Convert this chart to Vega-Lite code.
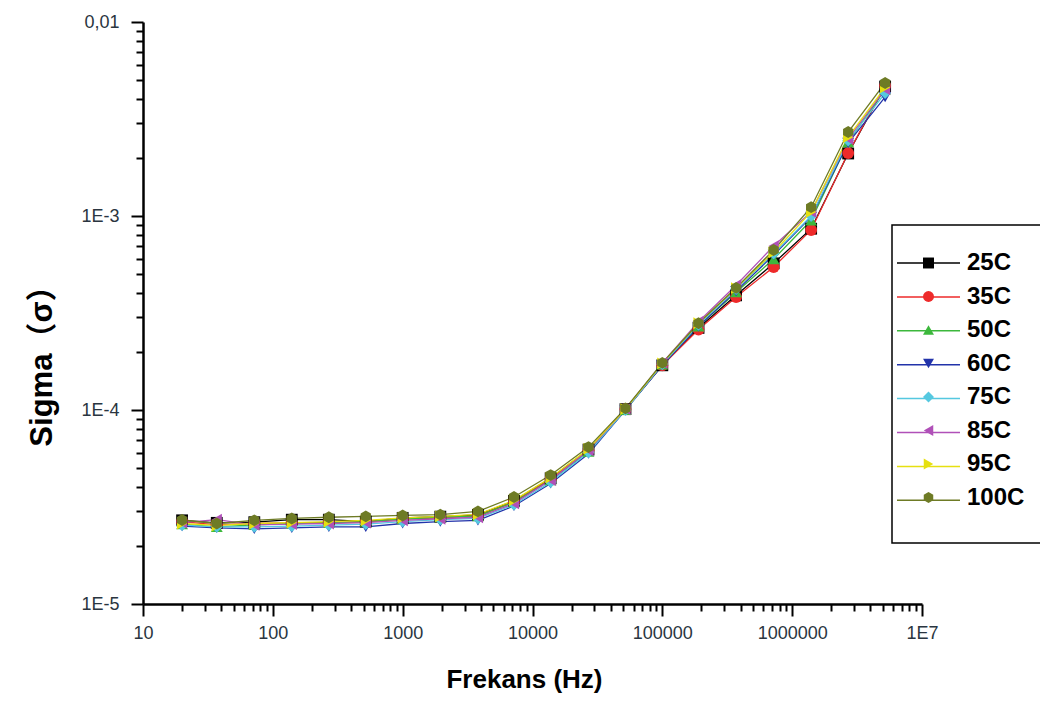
{
  "$schema": "https://vega.github.io/schema/vega-lite/v6.json",
  "width": 779,
  "height": 582,
  "autosize": "none",
  "padding": {"left": 143, "top": 22, "right": 118, "bottom": 98},
  "background": "white",
  "config": {"view": {"stroke": null}, "font": "Liberation Sans", "legend": {"strokeWidth": 1.5}},
  "data": {"values": [
    {"f":20,"s":2.70e-5,"T":"25C"},{"f":37,"s":2.62e-5,"T":"25C"},{"f":72,"s":2.64e-5,"T":"25C"},{"f":140,"s":2.72e-5,"T":"25C"},{"f":270,"s":2.72e-5,"T":"25C"},{"f":520,"s":2.66e-5,"T":"25C"},{"f":1000,"s":2.78e-5,"T":"25C"},{"f":1950,"s":2.82e-5,"T":"25C"},{"f":3800,"s":2.88e-5,"T":"25C"},{"f":7200,"s":3.40e-5,"T":"25C"},{"f":13800,"s":4.45e-5,"T":"25C"},{"f":27000,"s":6.25e-5,"T":"25C"},{"f":52000,"s":1.01e-4,"T":"25C"},{"f":100000,"s":1.70e-4,"T":"25C"},{"f":190000,"s":2.65e-4,"T":"25C"},{"f":370000,"s":3.90e-4,"T":"25C"},{"f":720000,"s":5.70e-4,"T":"25C"},{"f":1400000,"s":8.60e-4,"T":"25C"},{"f":2700000,"s":2.10e-3,"T":"25C"},{"f":5200000,"s":4.65e-3,"T":"25C"},
    {"f":20,"s":2.66e-5,"T":"35C"},{"f":37,"s":2.56e-5,"T":"35C"},{"f":72,"s":2.60e-5,"T":"35C"},{"f":140,"s":2.62e-5,"T":"35C"},{"f":270,"s":2.63e-5,"T":"35C"},{"f":520,"s":2.65e-5,"T":"35C"},{"f":1000,"s":2.74e-5,"T":"35C"},{"f":1950,"s":2.78e-5,"T":"35C"},{"f":3800,"s":2.84e-5,"T":"35C"},{"f":7200,"s":3.36e-5,"T":"35C"},{"f":13800,"s":4.40e-5,"T":"35C"},{"f":27000,"s":6.20e-5,"T":"35C"},{"f":52000,"s":1.01e-4,"T":"35C"},{"f":100000,"s":1.70e-4,"T":"35C"},{"f":190000,"s":2.60e-4,"T":"35C"},{"f":370000,"s":3.82e-4,"T":"35C"},{"f":720000,"s":5.46e-4,"T":"35C"},{"f":1400000,"s":8.47e-4,"T":"35C"},{"f":2700000,"s":2.11e-3,"T":"35C"},{"f":5200000,"s":4.70e-3,"T":"35C"},
    {"f":20,"s":2.58e-5,"T":"50C"},{"f":37,"s":2.50e-5,"T":"50C"},{"f":72,"s":2.56e-5,"T":"50C"},{"f":140,"s":2.60e-5,"T":"50C"},{"f":270,"s":2.62e-5,"T":"50C"},{"f":520,"s":2.66e-5,"T":"50C"},{"f":1000,"s":2.74e-5,"T":"50C"},{"f":1950,"s":2.80e-5,"T":"50C"},{"f":3800,"s":2.84e-5,"T":"50C"},{"f":7200,"s":3.35e-5,"T":"50C"},{"f":13800,"s":4.35e-5,"T":"50C"},{"f":27000,"s":6.10e-5,"T":"50C"},{"f":52000,"s":1.00e-4,"T":"50C"},{"f":100000,"s":1.72e-4,"T":"50C"},{"f":190000,"s":2.70e-4,"T":"50C"},{"f":370000,"s":4.05e-4,"T":"50C"},{"f":720000,"s":6.00e-4,"T":"50C"},{"f":1400000,"s":9.50e-4,"T":"50C"},{"f":2700000,"s":2.40e-3,"T":"50C"},{"f":5200000,"s":4.50e-3,"T":"50C"},
    {"f":20,"s":2.52e-5,"T":"60C"},{"f":37,"s":2.47e-5,"T":"60C"},{"f":72,"s":2.44e-5,"T":"60C"},{"f":140,"s":2.47e-5,"T":"60C"},{"f":270,"s":2.50e-5,"T":"60C"},{"f":520,"s":2.50e-5,"T":"60C"},{"f":1000,"s":2.60e-5,"T":"60C"},{"f":1950,"s":2.66e-5,"T":"60C"},{"f":3800,"s":2.70e-5,"T":"60C"},{"f":7200,"s":3.20e-5,"T":"60C"},{"f":13800,"s":4.18e-5,"T":"60C"},{"f":27000,"s":5.95e-5,"T":"60C"},{"f":52000,"s":1.00e-4,"T":"60C"},{"f":100000,"s":1.70e-4,"T":"60C"},{"f":190000,"s":2.70e-4,"T":"60C"},{"f":370000,"s":4.10e-4,"T":"60C"},{"f":720000,"s":6.30e-4,"T":"60C"},{"f":1400000,"s":9.90e-4,"T":"60C"},{"f":2700000,"s":2.38e-3,"T":"60C"},{"f":5200000,"s":4.10e-3,"T":"60C"},
    {"f":20,"s":2.55e-5,"T":"75C"},{"f":37,"s":2.50e-5,"T":"75C"},{"f":72,"s":2.50e-5,"T":"75C"},{"f":140,"s":2.52e-5,"T":"75C"},{"f":270,"s":2.55e-5,"T":"75C"},{"f":520,"s":2.58e-5,"T":"75C"},{"f":1000,"s":2.66e-5,"T":"75C"},{"f":1950,"s":2.72e-5,"T":"75C"},{"f":3800,"s":2.76e-5,"T":"75C"},{"f":7200,"s":3.25e-5,"T":"75C"},{"f":13800,"s":4.25e-5,"T":"75C"},{"f":27000,"s":6.05e-5,"T":"75C"},{"f":52000,"s":1.00e-4,"T":"75C"},{"f":100000,"s":1.72e-4,"T":"75C"},{"f":190000,"s":2.75e-4,"T":"75C"},{"f":370000,"s":4.20e-4,"T":"75C"},{"f":720000,"s":6.40e-4,"T":"75C"},{"f":1400000,"s":1.00e-3,"T":"75C"},{"f":2700000,"s":2.45e-3,"T":"75C"},{"f":5200000,"s":4.30e-3,"T":"75C"},
    {"f":20,"s":2.63e-5,"T":"85C"},{"f":37,"s":2.72e-5,"T":"85C"},{"f":72,"s":2.56e-5,"T":"85C"},{"f":140,"s":2.58e-5,"T":"85C"},{"f":270,"s":2.60e-5,"T":"85C"},{"f":520,"s":2.63e-5,"T":"85C"},{"f":1000,"s":2.70e-5,"T":"85C"},{"f":1950,"s":2.75e-5,"T":"85C"},{"f":3800,"s":2.80e-5,"T":"85C"},{"f":7200,"s":3.30e-5,"T":"85C"},{"f":13800,"s":4.35e-5,"T":"85C"},{"f":27000,"s":6.20e-5,"T":"85C"},{"f":52000,"s":1.01e-4,"T":"85C"},{"f":100000,"s":1.75e-4,"T":"85C"},{"f":190000,"s":2.85e-4,"T":"85C"},{"f":370000,"s":4.40e-4,"T":"85C"},{"f":720000,"s":7.00e-4,"T":"85C"},{"f":1400000,"s":1.05e-3,"T":"85C"},{"f":2700000,"s":2.50e-3,"T":"85C"},{"f":5200000,"s":4.50e-3,"T":"85C"},
    {"f":20,"s":2.60e-5,"T":"95C"},{"f":37,"s":2.54e-5,"T":"95C"},{"f":72,"s":2.60e-5,"T":"95C"},{"f":140,"s":2.63e-5,"T":"95C"},{"f":270,"s":2.66e-5,"T":"95C"},{"f":520,"s":2.70e-5,"T":"95C"},{"f":1000,"s":2.78e-5,"T":"95C"},{"f":1950,"s":2.83e-5,"T":"95C"},{"f":3800,"s":2.90e-5,"T":"95C"},{"f":7200,"s":3.42e-5,"T":"95C"},{"f":13800,"s":4.48e-5,"T":"95C"},{"f":27000,"s":6.30e-5,"T":"95C"},{"f":52000,"s":1.01e-4,"T":"95C"},{"f":100000,"s":1.74e-4,"T":"95C"},{"f":190000,"s":2.80e-4,"T":"95C"},{"f":370000,"s":4.25e-4,"T":"95C"},{"f":720000,"s":6.50e-4,"T":"95C"},{"f":1400000,"s":1.05e-3,"T":"95C"},{"f":2700000,"s":2.55e-3,"T":"95C"},{"f":5200000,"s":4.60e-3,"T":"95C"},
    {"f":20,"s":2.71e-5,"T":"100C"},{"f":37,"s":2.60e-5,"T":"100C"},{"f":72,"s":2.70e-5,"T":"100C"},{"f":140,"s":2.76e-5,"T":"100C"},{"f":270,"s":2.80e-5,"T":"100C"},{"f":520,"s":2.83e-5,"T":"100C"},{"f":1000,"s":2.86e-5,"T":"100C"},{"f":1950,"s":2.89e-5,"T":"100C"},{"f":3800,"s":3.00e-5,"T":"100C"},{"f":7200,"s":3.56e-5,"T":"100C"},{"f":13800,"s":4.62e-5,"T":"100C"},{"f":27000,"s":6.44e-5,"T":"100C"},{"f":52000,"s":1.02e-4,"T":"100C"},{"f":100000,"s":1.75e-4,"T":"100C"},{"f":190000,"s":2.80e-4,"T":"100C"},{"f":370000,"s":4.26e-4,"T":"100C"},{"f":720000,"s":6.68e-4,"T":"100C"},{"f":1400000,"s":1.11e-3,"T":"100C"},{"f":2700000,"s":2.71e-3,"T":"100C"},{"f":5200000,"s":4.85e-3,"T":"100C"}
  ]},
  "encoding": {
    "x": {
      "field": "f", "type": "quantitative",
      "scale": {"type": "log", "domain": [10, 10000000], "nice": false},
      "axis": {
        "title": "Frekans (Hz)",
        "values": [10,20,30,40,50,60,70,80,90,100,200,300,400,500,600,700,800,900,1000,2000,3000,4000,5000,6000,7000,8000,9000,10000,20000,30000,40000,50000,60000,70000,80000,90000,100000,200000,300000,400000,500000,600000,700000,800000,900000,1000000,2000000,3000000,4000000,5000000,6000000,7000000,8000000,9000000,10000000],
        "labelExpr": "datum.value == 10000000 ? '1E7' : (abs(log(datum.value)/LN10 - round(log(datum.value)/LN10)) < 0.001 ? format(datum.value, 'd') : '')",
        "tickSize": {"condition": {"test": "abs(log(datum.value)/LN10 - round(log(datum.value)/LN10)) < 0.001", "value": 12}, "value": 7},
        "tickWidth": 2, "tickColor": "black",
        "domainColor": "black", "domainWidth": 2.5,
        "grid": false, "labelOverlap": false, "labelFlush": false,
        "labelFont": "Liberation Sans", "labelFontSize": 18, "labelColor": "#2a3540", "labelPadding": 8,
        "titleFont": "Liberation Sans", "titleFontSize": 26, "titleFontWeight": "bold", "titleColor": "black",
        "titleX": 381, "titleY": 83, "titleBaseline": "alphabetic", "titleAlign": "center", "titleAnchor": null
      }
    },
    "y": {
      "field": "s", "type": "quantitative",
      "scale": {"type": "log", "domain": [0.00001, 0.01], "nice": false},
      "axis": {
        "title": "Sigma（σ）",
        "values": [0.00001,0.00002,0.00003,0.00004,0.00005,0.00006,0.00007,0.00008,0.00009,0.0001,0.0002,0.0003,0.0004,0.0005,0.0006,0.0007,0.0008,0.0009,0.001,0.002,0.003,0.004,0.005,0.006,0.007,0.008,0.009,0.01],
        "labelExpr": "datum.value == 0.01 ? '0,01' : datum.value == 0.001 ? '1E-3' : datum.value == 0.0001 ? '1E-4' : datum.value == 0.00001 ? '1E-5' : ''",
        "tickSize": {"condition": {"test": "abs(log(datum.value)/LN10 - round(log(datum.value)/LN10)) < 0.001", "value": 12}, "value": 7},
        "tickWidth": 2, "tickColor": "black",
        "domainColor": "black", "domainWidth": 2.5,
        "grid": false, "labelOverlap": false, "labelFlush": false,
        "labelFont": "Liberation Sans", "labelFontSize": 18, "labelColor": "#2a3540", "labelPadding": 12,
        "titleFont": "Liberation Sans, Noto Sans CJK SC", "titleFontSize": 31, "titleFontWeight": "bold", "titleColor": "black",
        "titleAngle": -90, "titleX": -92, "titleY": 336, "titleBaseline": "alphabetic", "titleAlign": "center", "titleAnchor": null
      }
    }
  },
  "layer": [
    {
      "mark": {"type": "line", "strokeWidth": 1.3},
      "encoding": {
        "color": {
          "field": "T", "type": "nominal",
          "scale": {"domain": ["25C","35C","50C","60C","75C","85C","95C","100C"], "range": ["#000000","#ee2a2a","#3cb83c","#2233aa","#55c8e0","#b050b8","#e6e010","#6e7b25","transparent"]},
          "legend": {
            "orient": "none", "legendX": 749, "legendY": 203, "direction": "vertical", "columns": 1,
            "values": ["25C","35C","50C","60C","75C","85C","95C","100C","~"],
            "title": " ", "titleFontSize": 20, "titlePadding": 10,
            "padding": 2, "strokeColor": "black",
            "symbolType": "M-31.5,0L31.5,0M106.7,0", "symbolSize": 4, "symbolStrokeWidth": 1.5, "symbolOffset": 28.5,
            "labelFont": "Liberation Sans", "labelFontWeight": "bold", "labelFontSize": 12,
            "labelExpr": "'I'", "labelOpacity": 0, "labelOffset": 0, "rowPadding": 21.9
          }
        }
      }
    },
    {
      "mark": {"type": "point", "filled": true, "size": 140, "opacity": 1, "strokeWidth": 0},
      "encoding": {
        "color": {
          "field": "T", "type": "nominal",
          "scale": {"domain": ["25C","35C","50C","60C","75C","85C","95C","100C"], "range": ["#000000","#ee2a2a","#3cb83c","#2233aa","#55c8e0","#b050b8","#e6e010","#6e7b25","transparent"]},
          "legend": {
            "orient": "none", "legendX": 773.5, "legendY": 229, "direction": "vertical", "columns": 1,
            "values": ["25C","35C","50C","60C","75C","85C","95C","100C"],
            "title": null, "padding": 0, "symbolSize": 120, "symbolStrokeWidth": 0,
            "labelFont": "Liberation Sans", "labelFontWeight": "bold", "labelFontSize": 24, "labelColor": "black",
            "labelOffset": 26.5, "rowPadding": 9.5
          }
        },
        "shape": {
          "field": "T", "type": "nominal",
          "scale": {"domain": ["25C","35C","50C","60C","75C","85C","95C","100C"], "range": ["square","circle","triangle-up","triangle-down","diamond","triangle-left","triangle-right","M0,-1L0.866,-0.5L0.866,0.5L0,1L-0.866,0.5L-0.866,-0.5Z"]},
          "legend": {
            "orient": "none", "legendX": 773.5, "legendY": 229, "direction": "vertical", "columns": 1,
            "values": ["25C","35C","50C","60C","75C","85C","95C","100C"],
            "title": null, "padding": 0, "symbolSize": 120, "symbolStrokeWidth": 0,
            "labelFont": "Liberation Sans", "labelFontWeight": "bold", "labelFontSize": 24, "labelColor": "black",
            "labelOffset": 26.5, "rowPadding": 9.5
          }
        }
      }
    }
  ],
  "resolve": {"legend": {"color": "independent", "shape": "independent"}}
}
